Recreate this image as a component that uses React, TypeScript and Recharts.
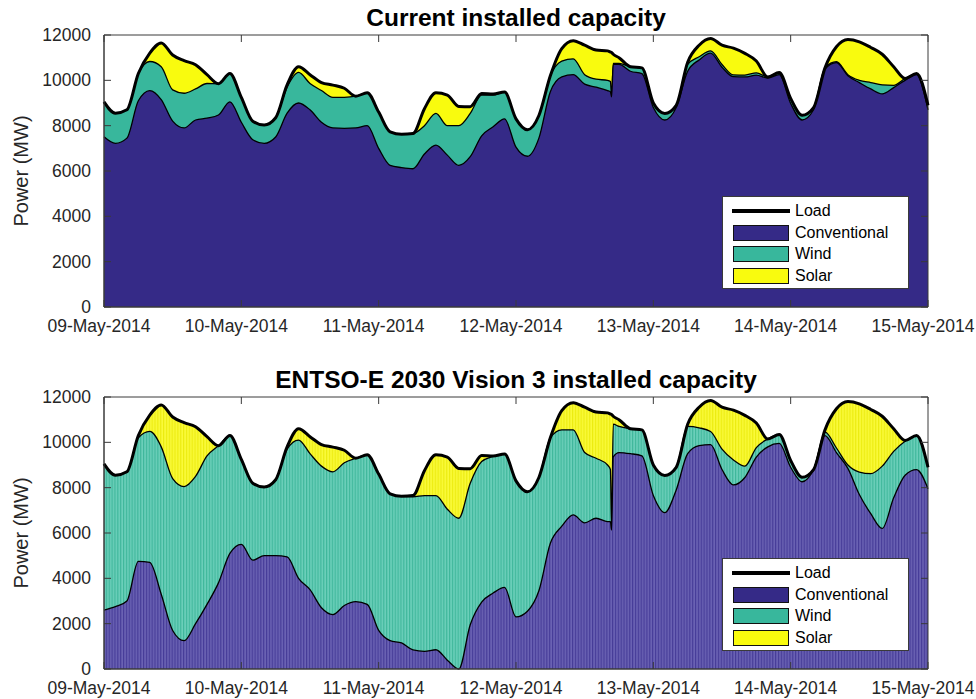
import React from 'react';
import { ComposedChart, Area, Line, XAxis, YAxis, ReferenceArea, Legend } from 'recharts';

// Hours since 09-May-2014 00:00
const hours = [
  0, 2, 4, 6, 8, 10, 12, 14, 16, 18, 20, 22, 24, 26, 28, 30, 32, 34, 36, 38, 40, 42, 44, 46, 48,
  50, 52, 54, 56, 58, 60, 62, 64, 66, 68, 70, 72, 74, 76, 78, 80, 82, 84, 86, 88, 88.5, 88.7, 89,
  90, 92, 94, 96, 98, 100, 102, 104, 106, 108, 110, 112, 114, 116, 118, 120, 122, 124, 126, 128,
  130, 132, 134, 136, 138, 140, 142, 144,
];

// Load (MW) — the same in both scenarios
const loadMW = [
  9050, 8550, 8700, 10300, 11200, 11650, 11120, 10870, 10690, 10250, 9850, 10300, 9250, 8200, 8030,
  8350, 9800, 10600, 10250, 9900, 9790, 9650, 9300, 9450, 8600, 7730, 7620, 7650, 8750, 9450, 9350,
  8850, 8840, 9420, 9400, 9480, 8300, 7820, 8450, 10200, 11400, 11750, 11550, 11340, 11300, 11250,
  11230, 11150, 11000, 10600, 10550, 9000, 8540, 8900, 10800, 11550, 11850, 11550, 11420, 11190,
  10850, 10150, 10350, 9200, 8460, 8800, 10550, 11480, 11800, 11700, 11450, 11150, 10600, 10085,
  10300, 8900,
];

// Current installed capacity: conventional level and conventional + wind level (MW)
const conventionalCurrent = [
  7510, 7220, 7450, 9100, 9550, 9150, 8200, 7900, 8250, 8330, 8470, 9050, 8150, 7380, 7220, 7500,
  8550, 9000, 8700, 8150, 7900, 7880, 7900, 8000, 7000, 6250, 6150, 6100, 6750, 7140, 6700, 6250,
  6630, 7550, 7950, 8300, 7050, 6650, 7450, 9500, 10150, 10250, 9830, 9700, 9550, 9500, 9270,
  10700, 10700, 10400, 10300, 8800, 8250, 8800, 10400, 10900, 11200, 10580, 10160, 10150, 10230,
  10100, 10250, 8980, 8250, 8700, 10500, 10780, 10200, 9900, 9620, 9400, 9680, 10000, 10250, 8700,
];
const convPlusWindCurrent = [
  9050, 8550, 8700, 10300, 10830, 10600, 9580, 9430, 9620, 9860, 9850, 10300, 9250, 8200, 8030,
  8350, 9700, 10350, 9860, 9550, 9250, 9250, 9300, 9450, 8600, 7730, 7620, 7650, 8000, 8540, 8000,
  8000, 8540, 9350, 9350, 9480, 8300, 7820, 8450, 10200, 10850, 10950, 10250, 10050, 10000, 9950,
  9300, 10750, 10750, 10600, 10550, 9000, 8540, 8900, 10700, 11040, 11300, 10700, 10240, 10230,
  10330, 10150, 10350, 9200, 8460, 8800, 10550, 10820, 10250, 10000, 9900, 9800, 9780, 10085,
  10300, 8900,
];

// ENTSO-E 2030 Vision 3: conventional level and conventional + wind level (MW)
const conventionalVision = [
  2600, 2750, 3000, 4750, 4700, 3300, 1700, 1250, 2000, 2850, 3800, 5100, 5500, 4800, 5000, 5000,
  4950, 4000, 3500, 2700, 2400, 2800, 2970, 2850, 1700, 1250, 1150, 840, 780, 850, 390, 0, 1950,
  2950, 3350, 3600, 2300, 2550, 3450, 5550, 6300, 6800, 6450, 6650, 6500, 6500, 6130, 9360, 9550,
  9500, 9400, 7650, 6900, 7900, 9500, 9850, 9900, 8800, 8120, 8450, 9350, 9800, 9950, 8900, 8260,
  8800, 10300, 9550, 8850, 7700, 6850, 6200, 7550, 8550, 8800, 7950,
];
const convPlusWindVision = [
  9050, 8550, 8700, 10200, 10480, 9800, 8400, 8050, 8500, 9400, 9850, 10300, 9250, 8200, 8030, 8350,
  9700, 10100, 9500, 8950, 8700, 9100, 9300, 9450, 8600, 7730, 7620, 7600, 7650, 7650, 7050, 6650,
  8190, 9150, 9380, 9480, 8300, 7820, 8450, 10200, 10550, 10550, 9550, 9300, 9000, 8800, 6200,
  10800, 10700, 10600, 10550, 9000, 8540, 8900, 10700, 10640, 10480, 9700, 9220, 8950, 9770, 10150,
  10350, 9200, 8460, 8800, 10450, 9750, 9000, 8690, 8620, 8950, 9600, 10050, 10300, 8900,
];

const dayTicks = [0, 24, 48, 72, 96, 120, 144];
const dayLabels = ['09-May-2014', '10-May-2014', '11-May-2014', '12-May-2014', '13-May-2014', '14-May-2014', '15-May-2014'];
const powerTicks = [0, 2000, 4000, 6000, 8000, 10000, 12000];
const legendNames = ['Load', 'Conventional', 'Wind', 'Solar'];

const currentData = hours.map((h, i) => ({ h, load: loadMW[i], conv: conventionalCurrent[i], windTop: convPlusWindCurrent[i] }));
const visionData = hours.map((h, i) => ({ h, load: loadMW[i], conv: conventionalVision[i], windTop: convPlusWindVision[i] }));

const FONT = '"Liberation Sans", Arial, Helvetica, sans-serif';
const AXIS = '#3a3a3a';
const TEXT = '#262626';
const PLOT_H = 272;
const PLOT_W = 824;
const COLORS = { conv: '#352a87', wind: '#38b79c', solar: '#f9fb0e' };
const CURVE = 'monotone';

const XTick = (props: any) => {
  const { x, y, payload } = props;
  const idx = dayTicks.indexOf(payload.value);
  return (
    <g>
      <line x1={x} x2={x} y1={y} y2={y - 7} stroke={AXIS} strokeWidth={1} />
      <line x1={x} x2={x} y1={y - PLOT_H} y2={y - PLOT_H + 7} stroke={AXIS} strokeWidth={1} />
      <text x={x - 5} y={y + 25} textAnchor="middle" fontSize={17.5} fontFamily={FONT} fill={TEXT}>
        {dayLabels[idx]}
      </text>
    </g>
  );
};

const YTick = (props: any) => {
  const { x, y, payload } = props;
  return (
    <g>
      <line x1={x} x2={x + 7} y1={y} y2={y} stroke={AXIS} strokeWidth={1} />
      <line x1={x + PLOT_W} x2={x + PLOT_W - 7} y1={y} y2={y} stroke={AXIS} strokeWidth={1} />
      <text x={x - 13} y={y + 6} textAnchor="end" fontSize={17.5} fontFamily={FONT} fill={TEXT}>
        {payload.value}
      </text>
    </g>
  );
};

const YLabel = (props: any) => {
  const vb = props.viewBox || { y: 35, height: PLOT_H };
  const cy = vb.y + vb.height / 2;
  return (
    <text x={28} y={cy} transform={`rotate(-90, 28, ${cy})`} textAnchor="middle" fontSize={20} fontFamily={FONT} fill={TEXT}>
      Power (MW)
    </text>
  );
};

const LegendBox = () => {
  const swatches = [COLORS.conv, COLORS.wind, COLORS.solar];
  return (
    <div
      style={{
        width: 187,
        height: 93,
        boxSizing: 'border-box',
        background: '#fff',
        border: `1px solid ${AXIS}`,
        position: 'relative',
        fontFamily: FONT,
        fontSize: 16,
        color: '#000',
      }}
    >
      {legendNames.map((name, i) => {
        const cy = 14 + i * 21.7;
        return (
          <div key={name} style={{ position: 'absolute', left: 0, top: cy - 10, height: 20, width: 185 }}>
            {i === 0 ? (
              <div style={{ position: 'absolute', left: 9, top: 8, width: 58, height: 4, background: '#000' }} />
            ) : (
              <div
                style={{
                  position: 'absolute',
                  left: 10,
                  top: 2,
                  width: 56,
                  height: 16,
                  boxSizing: 'border-box',
                  background: swatches[i - 1],
                  border: '1.5px solid #111',
                }}
              />
            )}
            <div style={{ position: 'absolute', left: 72, top: 0, lineHeight: '20px', whiteSpace: 'nowrap' }}>{name}</div>
          </div>
        );
      })}
    </div>
  );
};

type ChartProps = {
  data: any[];
  height: number;
  marginBottom: number;
  striped: boolean;
};

const PowerChart = ({ data, height, marginBottom, striped }: ChartProps) => {
  const convFill = striped ? 'url(#convStripe)' : COLORS.conv;
  const windFill = striped ? 'url(#windStripe)' : COLORS.wind;
  const solarFill = striped ? 'url(#solarStripe)' : COLORS.solar;
  return (
    <ComposedChart width={976} height={height} data={data} margin={{ top: 35, right: 48, bottom: marginBottom, left: 0 }}>
      <defs>
        <pattern id="convStripe" width="2.86" height="10" patternUnits="userSpaceOnUse">
          <rect width="2.86" height="10" fill="#6a62b3" />
          <rect width="1.2" height="10" fill="#463c98" />
        </pattern>
        <pattern id="windStripe" width="2.86" height="10" patternUnits="userSpaceOnUse">
          <rect width="2.86" height="10" fill="#6ccfba" />
          <rect width="1.2" height="10" fill="#3fb79b" />
        </pattern>
        <pattern id="solarStripe" width="2.86" height="10" patternUnits="userSpaceOnUse">
          <rect width="2.86" height="10" fill="#fafa3a" />
          <rect width="1.2" height="10" fill="#ecec10" />
        </pattern>
      </defs>
      <Area type={CURVE} dataKey="load" fill={solarFill} fillOpacity={1} stroke="none" isAnimationActive={false} dot={false} activeDot={false} />
      <Area type={CURVE} dataKey="windTop" fill={windFill} fillOpacity={1} stroke="#000" strokeWidth={1.3} isAnimationActive={false} dot={false} activeDot={false} />
      <Area type={CURVE} dataKey="conv" fill={convFill} fillOpacity={1} stroke="#000" strokeWidth={1.3} isAnimationActive={false} dot={false} activeDot={false} />
      <Line type={CURVE} dataKey="load" stroke="#000" strokeWidth={3} dot={false} activeDot={false} isAnimationActive={false} />
      <ReferenceArea x1={0} x2={144} y1={0} y2={12000} fill="none" stroke={AXIS} strokeWidth={1} />
      <XAxis
        dataKey="h"
        type="number"
        domain={[0, 144]}
        ticks={dayTicks}
        interval={0}
        tickSize={0}
        tickMargin={0}
        tickLine={false}
        axisLine={{ stroke: AXIS }}
        height={30}
        tick={XTick}
      />
      <YAxis
        type="number"
        domain={[0, 12000]}
        ticks={powerTicks}
        interval={0}
        tickSize={0}
        tickMargin={0}
        tickLine={false}
        axisLine={{ stroke: AXIS }}
        width={104}
        tick={YTick}
        label={<YLabel />}
      />
      <Legend
        layout="horizontal"
        verticalAlign="middle"
        align="center"
        content={() => <LegendBox />}
        wrapperStyle={{ left: 722, top: 196, width: 187, height: 93 }}
      />
    </ComposedChart>
  );
};

const titleStyle: React.CSSProperties = {
  position: 'absolute',
  left: 104,
  width: 824,
  textAlign: 'center',
  fontFamily: FONT,
  fontWeight: 'bold',
  fontSize: 24.5,
  lineHeight: '24px',
  color: '#000',
  whiteSpace: 'nowrap',
};

export default function App() {
  return (
    <div style={{ position: 'absolute', left: 0, top: 0, width: 976, height: 699, background: '#fff', overflow: 'hidden' }}>
      <div style={{ ...titleStyle, top: 6 }}>Current installed capacity</div>
      <div style={{ position: 'absolute', left: 0, top: 0 }}>
        <PowerChart data={currentData} height={345} marginBottom={8} striped={false} />
      </div>
      <div style={{ ...titleStyle, top: 368 }}>ENTSO-E 2030 Vision 3 installed capacity</div>
      <div style={{ position: 'absolute', left: 0, top: 362 }}>
        <PowerChart data={visionData} height={337} marginBottom={0} striped={true} />
      </div>
    </div>
  );
}
